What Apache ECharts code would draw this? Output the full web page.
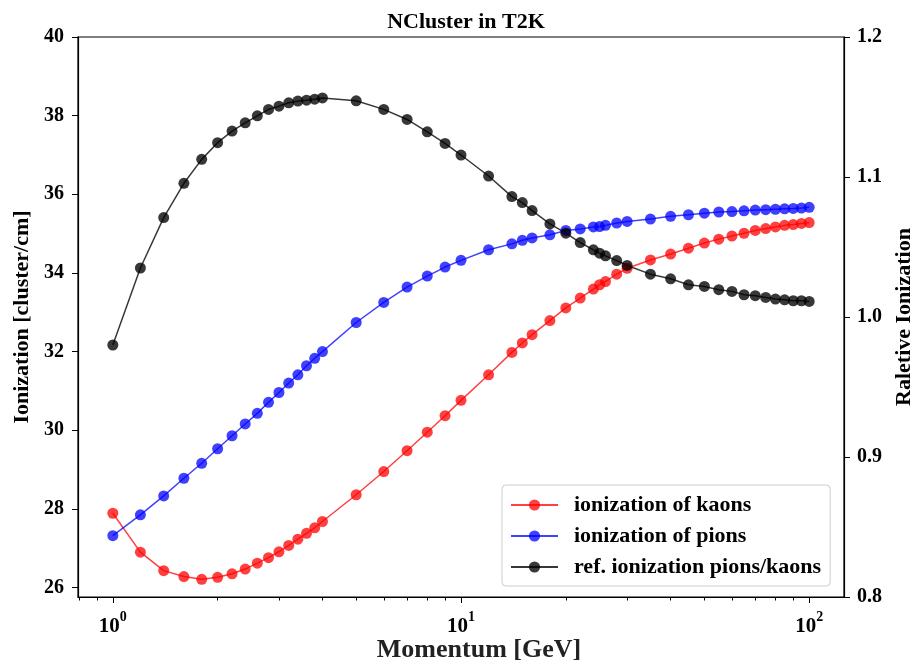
<!DOCTYPE html>
<html>
<head>
<meta charset="utf-8">
<script src="https://cdn.jsdelivr.net/npm/echarts@6/dist/echarts.min.js"></script>
<style>
  html, body { margin: 0; padding: 0; background: #fff; }
  #chart { width: 916px; height: 664px; }
</style>
</head>
<body>
<div id="chart"></div>
<script>
// Momentum values [GeV]
var momentum = [1, 1.2, 1.4, 1.6, 1.8, 2.0, 2.2, 2.4, 2.6, 2.8, 3.0, 3.2, 3.4, 3.6, 3.8, 4.0,
  5, 6, 7, 8, 9, 10, 12, 14, 15, 16, 18, 20, 22, 24, 25, 26, 28, 30, 35, 40, 45, 50,
  55, 60, 65, 70, 75, 80, 85, 90, 95, 100];

// Ionization of kaons [cluster/cm]
var kaons = [27.89, 26.90, 26.43, 26.28, 26.21, 26.26, 26.35, 26.47, 26.62, 26.76, 26.91, 27.07, 27.23, 27.38, 27.52, 27.68,
  28.36, 28.95, 29.48, 29.95, 30.37, 30.76, 31.41, 31.98, 32.22, 32.43, 32.79, 33.11, 33.36, 33.59, 33.70, 33.78, 33.97, 34.12, 34.33, 34.48, 34.63, 34.76,
  34.86, 34.94, 35.01, 35.08, 35.13, 35.17, 35.21, 35.23, 35.26, 35.28];

// Ionization of pions [cluster/cm]
var pions = [27.32, 27.85, 28.33, 28.78, 29.16, 29.53, 29.86, 30.16, 30.43, 30.71, 30.96, 31.20, 31.41, 31.64, 31.83, 32.00,
  32.74, 33.25, 33.64, 33.92, 34.15, 34.32, 34.59, 34.74, 34.83, 34.89, 34.97, 35.08, 35.12, 35.17, 35.18, 35.21, 35.27, 35.31, 35.37, 35.44, 35.48, 35.52,
  35.55, 35.56, 35.58, 35.60, 35.61, 35.62, 35.63, 35.64, 35.65, 35.67];

// Relative ionization pions/kaons
var ratio = [0.980, 1.035, 1.071, 1.0955, 1.1126, 1.1245, 1.1328, 1.1387, 1.1437, 1.1483, 1.1506, 1.1530, 1.1542, 1.1549, 1.1556, 1.1565,
  1.1544, 1.1483, 1.1411, 1.1323, 1.1240, 1.1157, 1.1007, 1.0860, 1.0817, 1.0760, 1.0665, 1.0599, 1.0532, 1.0480, 1.0456, 1.0437, 1.0403, 1.0368, 1.0306, 1.0273, 1.0230, 1.0218,
  1.0195, 1.0183, 1.0159, 1.0152, 1.0140, 1.0128, 1.0123, 1.0116, 1.0116, 1.0111];

var leftTicks = [26, 28, 30, 32, 34, 36, 38, 40];
var rightTicks = [0.8, 0.9, 1.0, 1.1, 1.2];
var xMajorTicks = [1, 10, 100];
var xMinorTicks = [0.8, 0.9, 2, 3, 4, 5, 6, 7, 8, 9, 20, 30, 40, 50, 60, 70, 80, 90];

var seriesNames = ['ionization of kaons', 'ionization of pions', 'ref. ionization pions/kaons'];

function pairs(xs, ys) { return xs.map(function (x, i) { return [x, ys[i]]; }); }

var FONT = '"Liberation Serif", "Times New Roman", serif';
var X_MIN = 0.7943, X_MAX = 125.89;

var chart = echarts.init(document.getElementById('chart'), null, { renderer: 'canvas' });

function mkSeries(name, data, color, yIdx, op) {
  return {
    name: name, type: 'line', data: data, xAxisIndex: 0, yAxisIndex: yIdx,
    symbol: 'circle', symbolSize: 11, showSymbol: true,
    lineStyle: { color: color, width: 1.5, opacity: op },
    itemStyle: { color: color, opacity: op },
    emphasis: { disabled: true },
    animation: false
  };
}

var option = {
  animation: false,
  backgroundColor: '#fff',
  title: {
    text: 'NCluster in T2K', left: 461, top: 6, textAlign: 'center',
    textStyle: { fontFamily: FONT, fontWeight: 'bold', fontSize: 22, color: '#000' }
  },
  grid: { left: 78, top: 37, right: 72, bottom: 67, containLabel: false, outerBoundsMode: 'none',
    show: true, borderColor: '#000', borderWidth: 1.2, backgroundColor: 'transparent' },
  legend: {
    orient: 'vertical', left: 502, top: 485,
    padding: [9, 9, 8, 8], itemGap: 9, itemWidth: 47, itemHeight: 14,
    backgroundColor: 'rgba(255,255,255,0.85)', borderColor: '#ccc', borderWidth: 1, borderRadius: 4,
    textStyle: { fontFamily: FONT, fontWeight: 'bold', fontSize: 22, color: '#000', padding: [0, 0, 0, 11] },
    data: seriesNames
  },
  xAxis: [{
    type: 'log', logBase: 10, min: X_MIN, max: X_MAX,
    name: 'Momentum [GeV]', nameLocation: 'middle', nameGap: 40, nameMoveOverlap: false,
    nameTextStyle: { fontFamily: FONT, fontWeight: 'bold', fontSize: 26, color: '#222', padding: [0, 0, 0, 36] },
    axisLine: { show: true, lineStyle: { color: '#000', width: 1.2 } },
    axisTick: { show: true, length: 6, customValues: xMajorTicks, lineStyle: { color: '#000' } },
    axisLabel: {
      margin: 13,
      formatter: function (v) {
        var l = Math.log10(v), n = Math.round(l);
        if (Math.abs(l - n) > 1e-6) return '';
        return '{b|10}{s|' + n + '}';
      },
      rich: {
        b: { fontFamily: FONT, fontWeight: 'bold', fontSize: 21, lineHeight: 27, verticalAlign: 'bottom', color: '#000' },
        s: { fontFamily: FONT, fontWeight: 'bold', fontSize: 14, lineHeight: 14, verticalAlign: 'top', color: '#000' }
      }
    },
    splitLine: { show: false }
  }, {
    type: 'log', logBase: 10, min: X_MIN, max: X_MAX, position: 'bottom', gridIndex: 0,
    axisLine: { show: false },
    axisTick: { show: true, length: 3.5, customValues: xMinorTicks, lineStyle: { color: '#000' } },
    axisLabel: { show: false },
    splitLine: { show: false }
  }],
  yAxis: [{
    type: 'value', min: 25.76, max: 40, splitNumber: 7, position: 'left',
    name: 'Ionization [cluster/cm]', nameLocation: 'middle', nameGap: 44, nameRotate: 90,
    nameTextStyle: { fontFamily: FONT, fontWeight: 'bold', fontSize: 22, color: '#000' },
    axisLine: { show: true, lineStyle: { color: '#000', width: 1.2 } },
    axisTick: { show: true, length: 6, customValues: leftTicks, lineStyle: { color: '#000' } },
    axisLabel: { customValues: leftTicks, margin: 14, fontFamily: FONT, fontWeight: 'bold', fontSize: 20, color: '#000' },
    splitLine: { show: false }
  }, {
    type: 'value', min: 0.8, max: 1.2, interval: 0.1, position: 'right',
    name: 'Raletive Ionization', nameLocation: 'middle', nameGap: 45, nameRotate: 90,
    nameTextStyle: { fontFamily: FONT, fontWeight: 'bold', fontSize: 22, color: '#000' },
    axisLine: { show: true, lineStyle: { color: '#000', width: 1.2 } },
    axisTick: { show: true, length: 6, lineStyle: { color: '#000' } },
    axisLabel: { margin: 13, fontFamily: FONT, fontWeight: 'bold', fontSize: 20, color: '#000',
      formatter: function (v) { return v.toFixed(1); } },
    splitLine: { show: false }
  }],
  series: [
    mkSeries(seriesNames[0], pairs(momentum, kaons), '#ff0000', 0, 0.75),
    mkSeries(seriesNames[1], pairs(momentum, pions), '#0000ff', 0, 0.75),
    mkSeries(seriesNames[2], pairs(momentum, ratio), '#000000', 1, 0.78)
  ]
};

chart.setOption(option);
</script>
</body>
</html>
